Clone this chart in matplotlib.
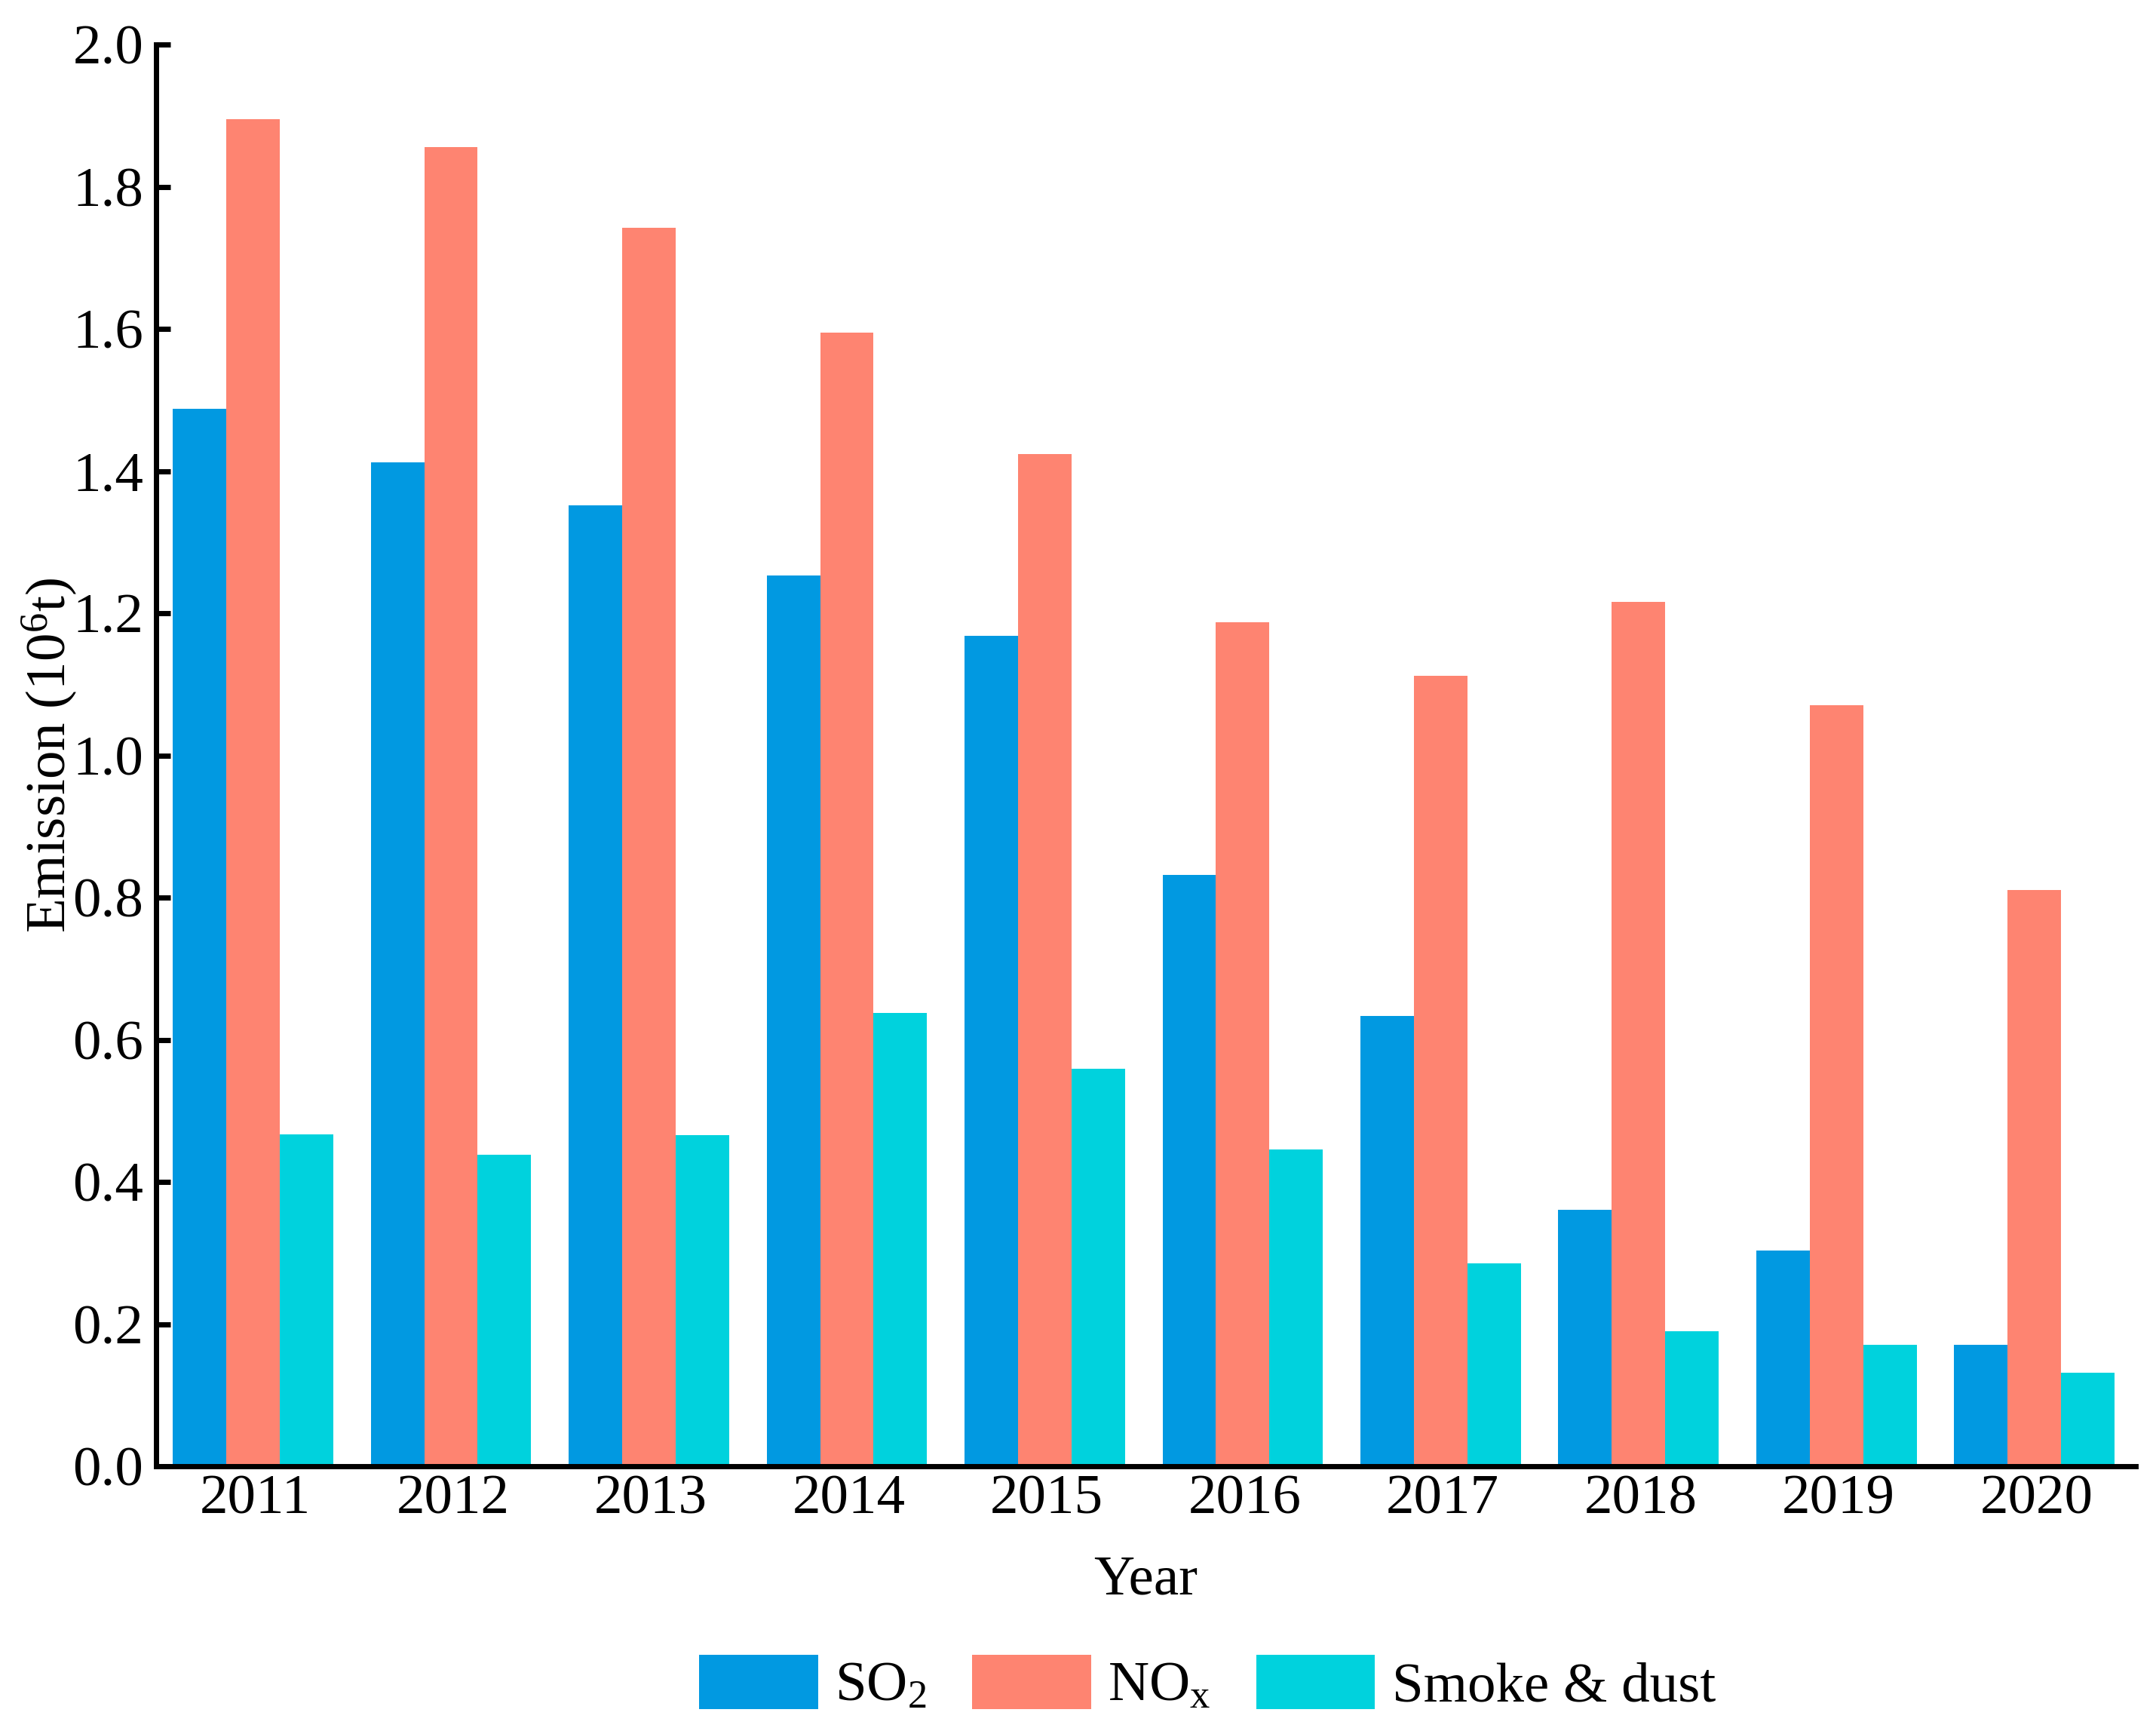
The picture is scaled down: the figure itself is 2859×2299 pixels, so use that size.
import numpy as np
import matplotlib
matplotlib.use('Agg')
import matplotlib.pyplot as plt

plt.rcParams['font.family'] = ['Liberation Serif', 'DejaVu Serif']
plt.rcParams['mathtext.fontset'] = 'custom'
plt.rcParams['mathtext.rm'] = 'Liberation Serif'
plt.rcParams['mathtext.it'] = 'Liberation Serif:italic'
plt.rcParams['font.size'] = 54

years = ['2011', '2012', '2013', '2014', '2015', '2016', '2017', '2018', '2019', '2020']
so2 = [1.488, 1.412, 1.352, 1.253, 1.168, 0.832, 0.634, 0.361, 0.303, 0.171]
nox = [1.895, 1.856, 1.742, 1.595, 1.424, 1.187, 1.112, 1.216, 1.071, 0.811]
dust = [0.467, 0.438, 0.466, 0.638, 0.559, 0.446, 0.285, 0.190, 0.171, 0.132]

labels = ['SO$_2$', 'NO$_\\mathrm{x}$', 'Smoke & dust']
colors = ['#0199e1', '#fe8471', '#00d2dd']

fig = plt.figure(figsize=(28.59, 22.99), dpi=100)
ax = fig.add_axes([0.0724, 0.1544, 0.9180, 0.8199])

x = np.arange(len(years))
w = 0.27
for i, (vals, lab, col) in enumerate(zip([so2, nox, dust], labels, colors)):
    ax.bar(x + (i - 1) * w - 0.01, vals, width=w, color=col, label=lab)

ax.set_xlim(-0.5, 9.5)
ax.set_ylim(0, 2.0)
ax.set_yticks(np.arange(0, 2.01, 0.2))
ax.set_yticklabels([f'{v:.1f}' for v in np.arange(0, 2.01, 0.2)])
ax.set_xticks(x)
ax.set_xticklabels(years)
ax.tick_params(axis='y', direction='in', length=14, width=5, pad=12)
ax.tick_params(axis='x', length=0, pad=8)

for s in ['top', 'right']:
    ax.spines[s].set_visible(False)
for s in ['left', 'bottom']:
    ax.spines[s].set_linewidth(5)

ax.set_xlabel('Year', labelpad=28)
ax.set_ylabel('Emission (10$^6$t)')
ax.yaxis.set_label_coords(-0.039, 0.5)

fig.legend(loc='center', bbox_to_anchor=(0.56, 0.029), ncol=3, frameon=False,
           handlelength=2.1, handleheight=1.1, handletextpad=0.3, columnspacing=0.8)

fig.savefig('out.png', dpi=100)
